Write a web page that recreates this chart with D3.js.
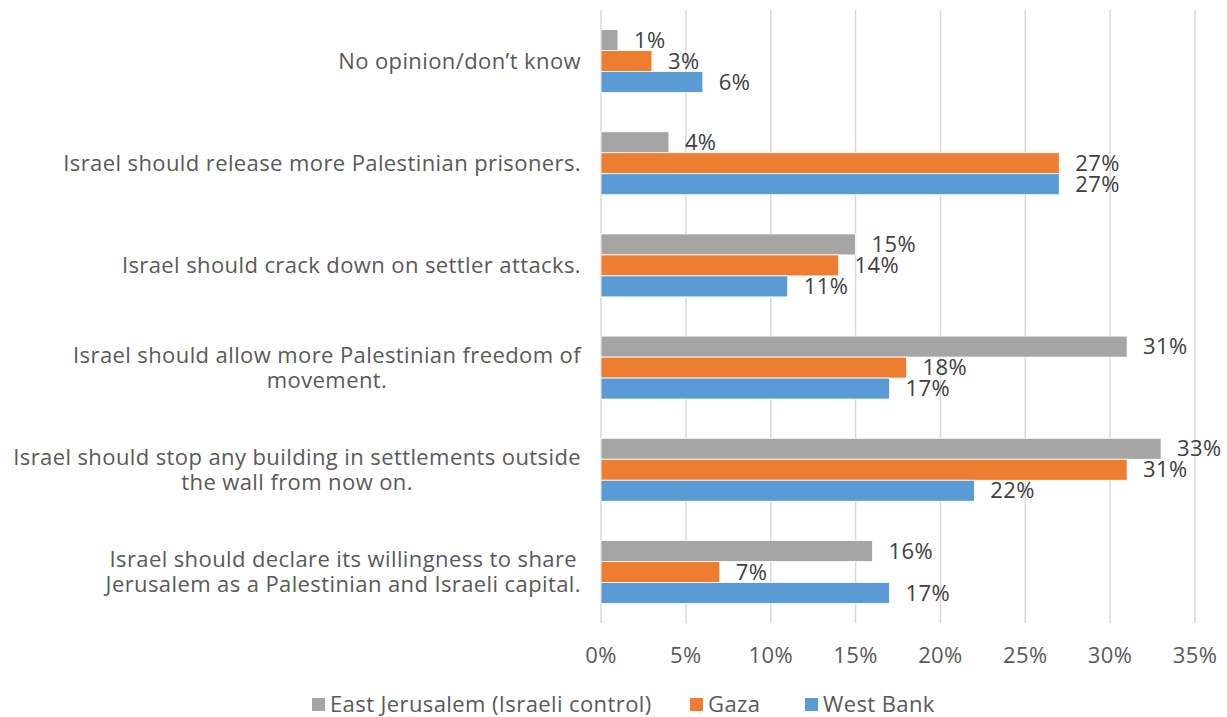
<!DOCTYPE html>
<html><head><meta charset="utf-8">
<script src="https://cdn.jsdelivr.net/npm/d3@7"></script>
<style>
body{margin:0;background:#fff;}
svg{display:block;font-family:"Open Sans", Lato, sans-serif;letter-spacing:0.4px;}
</style></head>
<body><svg id="c" width="1227" height="717"></svg>
<script>
const categories = [
  ["No opinion/don\u2019t know"],
  ["Israel should release more Palestinian prisoners."],
  ["Israel should crack down on settler attacks."],
  ["Israel should allow more Palestinian freedom of", "movement."],
  ["Israel should stop any building in settlements outside", "the wall from now on."],
  ["Israel should declare its willingness to share", "Jerusalem as a Palestinian and Israeli capital."]
];
const seriesNames = ["East Jerusalem (Israeli control)", "Gaza", "West Bank"];
const eastJerusalem = [1, 4, 15, 31, 33, 16];
const gaza = [3, 27, 14, 18, 31, 7];
const westBank = [6, 27, 11, 17, 22, 17];
const xTicks = [0, 5, 10, 15, 20, 25, 30, 35];
const colors = ["#A5A5A5", "#ED7D31", "#5B9BD5"];

const series = [eastJerusalem, gaza, westBank];
const svg = d3.select("#c");
const x = d3.scaleLinear().domain([0, 35]).range([601, 1195]);
const catIdx = d3.range(categories.length);
const y = d3.scaleBand().domain(catIdx).range([10, 623]).paddingInner(0.384).paddingOuter(0.192);
const ySub = d3.scaleBand().domain([0,1,2]).range([0, y.bandwidth()]);
const FS = 22;

// gridlines
svg.append("g").selectAll("line").data(xTicks).join("line")
  .attr("x1", d => x(d)).attr("x2", d => x(d))
  .attr("y1", 10).attr("y2", 623)
  .attr("stroke", "#D9D9D9").attr("stroke-width", 1.5);

// tick labels
svg.append("g").selectAll("text").data(xTicks).join("text")
  .attr("x", d => x(d)).attr("y", 655)
  .attr("dy", "0.35em")
  .attr("text-anchor", "middle")
  .attr("font-size", FS).attr("fill", "#595959")
  .text(d => d + "%");

// bars
const g = svg.append("g");
series.forEach((vals, si) => {
  g.append("g").selectAll("rect").data(vals).join("rect")
    .attr("x", x(0))
    .attr("y", (d, i) => y(i) + ySub(si))
    .attr("width", d => x(d) - x(0))
    .attr("height", ySub.bandwidth())
    .attr("fill", colors[si])
    .attr("stroke", "#fff").attr("stroke-width", 0.8);
  g.append("g").selectAll("text").data(vals).join("text")
    .attr("x", d => x(d) + 16)
    .attr("y", (d, i) => y(i) + ySub(si) + ySub.bandwidth() / 2)
    .attr("dy", "0.35em")
    .attr("font-size", FS).attr("fill", "#404040")
    .text(d => d + "%");
});

// category labels
const right = 581;
categories.forEach((lines, i) => {
  const cy = y(i) + y.bandwidth() / 2;
  const lh = 25;
  const tg = svg.append("g");
  const texts = lines.map((ln, k) => tg.append("text")
    .attr("y", cy + (k - (lines.length - 1) / 2) * lh)
    .attr("dy", "0.35em")
    .attr("font-size", FS).attr("fill", "#595959")
    .attr("text-anchor", "middle")
    .text(ln));
  const maxW = d3.max(texts, t => t.node().getComputedTextLength());
  texts.forEach(t => t.attr("x", right - maxW / 2));
});

// legend
const legendX = [312, 690, 805];
const lg = svg.append("g");
seriesNames.forEach((n, i) => {
  lg.append("rect").attr("x", legendX[i]).attr("y", 698).attr("width", 13).attr("height", 13).attr("fill", colors[i]);
  lg.append("text").attr("x", legendX[i] + 18).attr("y", 704).attr("dy", "0.35em")
    .attr("font-size", FS).attr("fill", "#595959").text(n);
});
</script></body></html>
